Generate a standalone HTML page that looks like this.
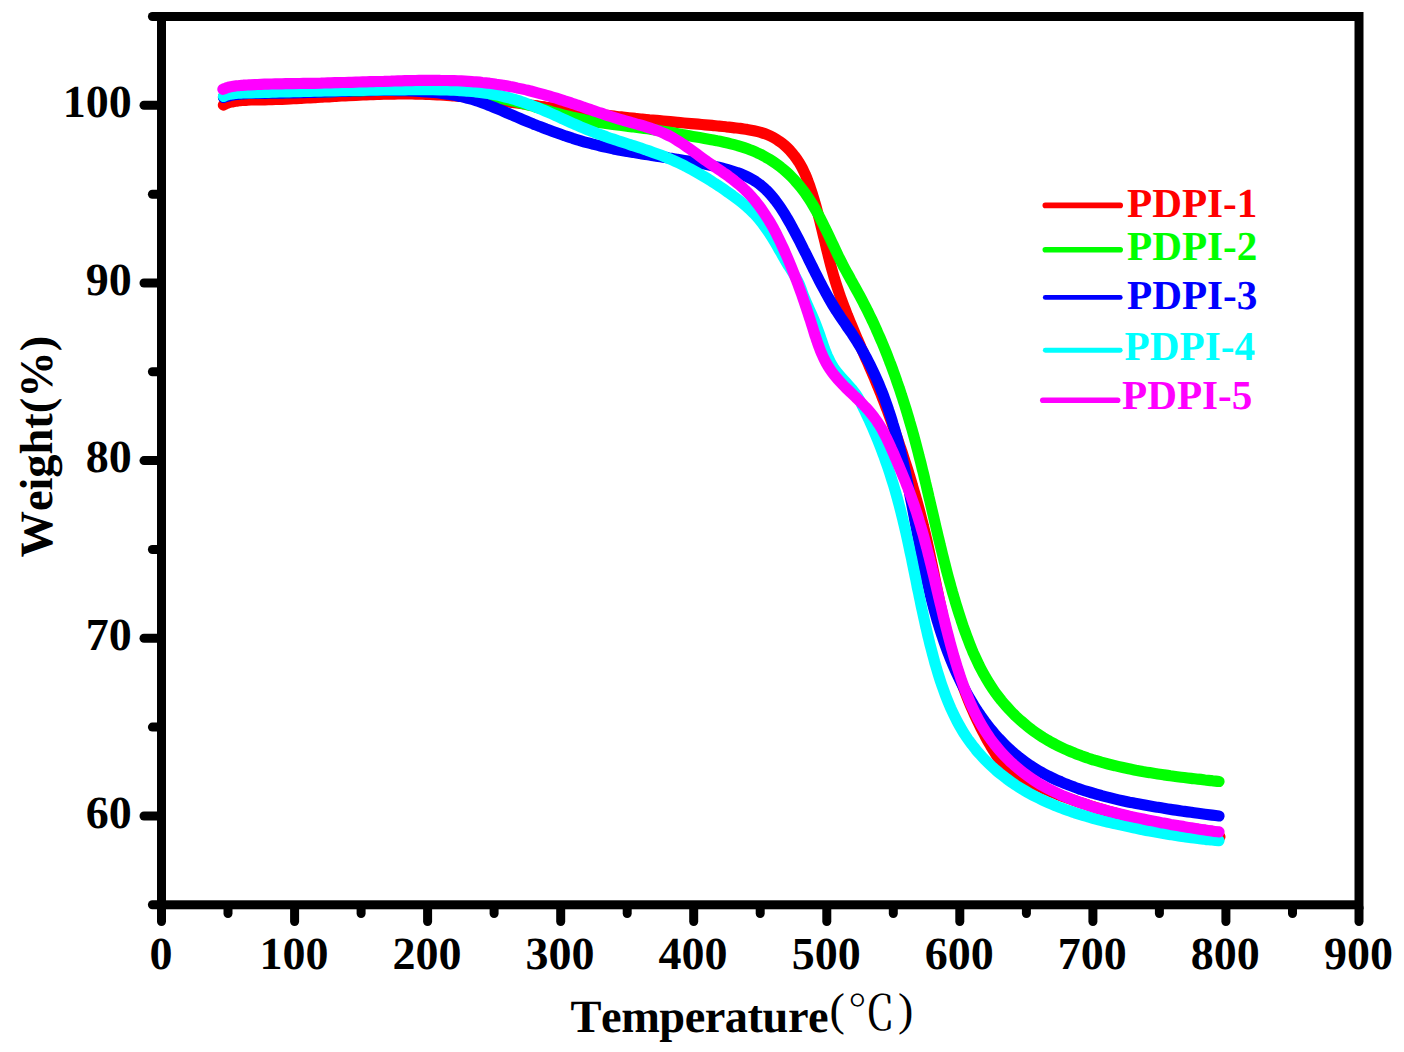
<!DOCTYPE html>
<html><head><meta charset="utf-8">
<style>html,body{margin:0;padding:0;background:#fff}svg{display:block}text{font-kerning:none;font-feature-settings:"kern" 0,"liga" 0;text-rendering:geometricPrecision}</style></head>
<body>
<svg width="1404" height="1052" viewBox="0 0 1404 1052" style="display:block">
<rect width="1404" height="1052" fill="#fff"/>
<g fill="none" stroke-width="11.2" stroke-linecap="round" stroke-linejoin="round">
<path stroke="#ff0000" d="M223.4,105.1C224.2,104.6 225.0,104.1 225.8,103.7C226.6,103.4 227.6,103.0 228.3,102.8C228.9,102.6 229.3,102.5 229.7,102.4C230.1,102.3 230.5,102.2 231.0,102.1C231.7,101.9 232.8,101.7 233.7,101.6C234.6,101.4 236.1,101.2 236.4,101.1C236.5,101.1 236.5,101.1 236.6,101.1C236.9,101.1 238.3,100.9 239.2,100.8C240.1,100.7 241.1,100.6 241.9,100.5C242.5,100.5 243.1,100.4 243.6,100.4C244.0,100.4 244.3,100.3 244.7,100.3C245.5,100.3 246.6,100.2 247.5,100.1C248.5,100.1 249.4,100.1 250.7,100.0C252.6,100.0 255.4,99.9 257.8,99.9C260.2,99.8 262.5,99.8 264.9,99.8C267.3,99.7 269.6,99.7 272.0,99.6C274.3,99.5 276.7,99.4 279.0,99.3C281.3,99.3 283.7,99.2 286.0,99.1C288.3,99.0 290.7,98.9 293.0,98.7C295.3,98.6 297.6,98.5 299.9,98.4C302.2,98.3 304.6,98.1 306.9,98.0C309.2,97.9 311.5,97.7 313.8,97.6C316.1,97.5 318.5,97.3 320.8,97.2C323.1,97.1 325.4,96.9 327.7,96.8C330.1,96.7 332.4,96.5 334.7,96.4C337.1,96.3 339.4,96.1 341.7,96.0C344.0,95.9 346.4,95.7 348.7,95.6C351.1,95.5 353.4,95.4 355.7,95.3C358.1,95.2 360.4,95.1 362.8,95.0C365.1,94.9 367.5,94.8 369.8,94.7C372.1,94.6 374.5,94.5 376.8,94.4C379.2,94.4 381.5,94.3 383.9,94.2C386.2,94.2 388.6,94.1 390.9,94.1C393.3,94.1 395.6,94.0 398.0,94.0C400.3,94.0 402.7,94.0 405.0,94.0C407.3,94.0 409.7,94.0 412.0,94.0C414.4,94.0 416.7,94.1 419.1,94.1C421.4,94.2 423.8,94.2 426.1,94.3C428.4,94.4 430.8,94.5 433.1,94.6C435.4,94.7 437.8,94.8 440.1,95.0C442.5,95.1 444.8,95.2 447.1,95.4C449.5,95.6 451.8,95.7 454.1,95.9C456.4,96.1 458.8,96.3 461.1,96.5C463.4,96.7 465.8,96.9 468.1,97.1C470.4,97.4 472.7,97.6 475.0,97.8C477.4,98.1 479.7,98.3 482.0,98.6C484.3,98.9 486.7,99.1 489.0,99.4C491.3,99.7 493.6,100.0 495.9,100.3C498.3,100.5 500.6,100.8 502.9,101.1C505.2,101.4 507.5,101.7 509.8,102.1C512.2,102.4 514.5,102.7 516.8,103.0C519.1,103.3 521.4,103.6 523.7,104.0C526.1,104.3 528.4,104.6 530.7,105.0C533.0,105.3 535.3,105.6 537.6,105.9C540.0,106.3 542.3,106.6 544.6,106.9C546.9,107.3 549.2,107.6 551.5,107.9C553.9,108.3 556.2,108.6 558.5,108.9C560.8,109.3 563.1,109.6 565.5,109.9C567.8,110.2 570.1,110.6 572.4,110.9C574.7,111.2 577.0,111.5 579.4,111.8C581.7,112.1 584.0,112.5 586.3,112.8C588.7,113.1 591.0,113.4 593.3,113.7C595.6,113.9 597.9,114.2 600.3,114.5C602.6,114.8 604.9,115.1 607.3,115.3C609.6,115.6 611.9,115.9 614.2,116.1C616.6,116.4 618.9,116.7 621.2,116.9C623.5,117.2 625.9,117.4 628.2,117.7C630.5,117.9 632.9,118.1 635.2,118.4C637.5,118.6 639.9,118.9 642.2,119.1C644.5,119.3 646.8,119.5 649.2,119.8C651.5,120.0 653.8,120.2 656.2,120.4C658.5,120.7 660.8,120.9 663.2,121.1C665.5,121.3 667.8,121.5 670.2,121.7C672.5,121.9 674.8,122.1 677.2,122.3C679.5,122.6 681.8,122.8 684.1,123.0C686.5,123.2 688.8,123.4 691.1,123.6C693.5,123.8 695.8,124.0 698.1,124.2C700.4,124.4 702.8,124.6 705.1,124.8C707.4,125.0 709.8,125.2 712.1,125.4C714.4,125.6 716.7,125.9 719.1,126.1C721.4,126.3 723.7,126.5 726.1,126.8C728.4,127.0 730.7,127.3 733.0,127.6C735.4,127.9 737.7,128.1 740.0,128.4C742.4,128.7 744.7,129.1 747.0,129.4C749.3,129.8 751.6,130.2 753.9,130.7C756.2,131.2 758.5,131.7 760.7,132.3C762.9,133.0 765.1,133.7 767.3,134.6C769.4,135.5 771.5,136.5 773.6,137.6C775.6,138.7 777.6,140.0 779.5,141.4C781.4,142.7 783.3,144.2 785.1,145.8C786.8,147.3 788.5,149.0 790.1,150.7C791.7,152.5 793.3,154.3 794.7,156.2C796.1,158.0 797.5,160.0 798.7,161.9C799.9,163.9 801.1,166.0 802.2,168.0C803.2,170.1 804.2,172.2 805.2,174.3C806.1,176.4 807.0,178.6 807.8,180.8C808.7,183.0 809.4,185.2 810.2,187.4C810.9,189.6 811.7,191.8 812.4,194.1C813.1,196.3 813.7,198.5 814.4,200.8C815.1,203.0 815.7,205.3 816.3,207.5C816.9,209.8 817.5,212.1 818.1,214.3C818.7,216.6 819.3,218.9 819.9,221.1C820.4,223.4 821.0,225.7 821.6,228.0C822.1,230.2 822.7,232.5 823.2,234.8C823.8,237.1 824.3,239.3 824.9,241.6C825.4,243.9 825.9,246.2 826.5,248.5C827.1,250.7 827.6,253.0 828.2,255.3C828.8,257.6 829.3,259.8 829.9,262.1C830.5,264.4 831.1,266.6 831.7,268.9C832.3,271.1 833.0,273.4 833.6,275.6C834.3,277.9 834.9,280.1 835.6,282.3C836.3,284.6 837.0,286.8 837.8,289.0C838.5,291.2 839.3,293.4 840.0,295.6C840.8,297.8 841.6,300.0 842.4,302.2C843.2,304.4 844.0,306.6 844.9,308.7C845.7,310.9 846.6,313.1 847.4,315.3C848.3,317.4 849.2,319.6 850.1,321.8C851.0,323.9 851.9,326.1 852.8,328.2C853.7,330.4 854.6,332.5 855.5,334.7C856.4,336.8 857.4,339.0 858.3,341.1C859.2,343.3 860.2,345.4 861.1,347.6C862.1,349.7 863.0,351.9 863.9,354.0C864.9,356.1 865.8,358.3 866.7,360.4C867.7,362.6 868.6,364.7 869.5,366.9C870.5,369.0 871.4,371.2 872.3,373.3C873.2,375.5 874.2,377.6 875.1,379.8C876.0,381.9 876.9,384.1 877.7,386.2C878.6,388.4 879.5,390.6 880.4,392.7C881.2,394.9 882.1,397.1 883.0,399.3C883.8,401.4 884.7,403.6 885.5,405.8C886.3,408.0 887.2,410.1 888.0,412.3C888.8,414.5 889.6,416.7 890.4,418.9C891.2,421.1 892.0,423.3 892.8,425.5C893.6,427.7 894.4,429.9 895.2,432.1C895.9,434.3 896.7,436.5 897.5,438.7C898.2,440.9 899.0,443.1 899.7,445.3C900.5,447.5 901.2,449.7 902.0,451.9C902.7,454.2 903.4,456.4 904.1,458.6C904.8,460.8 905.6,463.0 906.3,465.3C907.0,467.5 907.7,469.7 908.4,472.0C909.1,474.2 909.7,476.4 910.4,478.7C911.1,480.9 911.8,483.2 912.4,485.4C913.1,487.6 913.7,489.9 914.4,492.1C915.0,494.4 915.7,496.6 916.3,498.9C916.9,501.1 917.5,503.4 918.2,505.6C918.8,507.9 919.4,510.2 920.0,512.4C920.6,514.7 921.1,516.9 921.7,519.2C922.3,521.5 922.9,523.7 923.4,526.0C924.0,528.3 924.5,530.5 925.1,532.8C925.6,535.1 926.2,537.4 926.7,539.6C927.2,541.9 927.7,544.2 928.2,546.5C928.7,548.7 929.2,551.0 929.7,553.3C930.2,555.6 930.7,557.8 931.1,560.1C931.6,562.4 932.1,564.7 932.6,567.0C933.0,569.2 933.5,571.5 934.0,573.8C934.4,576.1 934.9,578.4 935.4,580.7C935.8,582.9 936.3,585.2 936.7,587.5C937.2,589.8 937.7,592.1 938.2,594.4C938.6,596.7 939.1,598.9 939.6,601.2C940.1,603.5 940.6,605.8 941.1,608.1C941.6,610.4 942.1,612.6 942.6,614.9C943.1,617.2 943.6,619.5 944.2,621.8C944.7,624.0 945.2,626.3 945.8,628.6C946.4,630.9 946.9,633.1 947.5,635.4C948.1,637.7 948.7,640.0 949.3,642.2C949.9,644.5 950.5,646.7 951.1,649.0C951.8,651.3 952.4,653.5 953.1,655.8C953.7,658.0 954.4,660.3 955.1,662.5C955.7,664.8 956.4,667.0 957.2,669.2C957.9,671.5 958.6,673.7 959.4,675.9C960.1,678.1 960.9,680.3 961.6,682.5C962.4,684.7 963.2,687.0 964.0,689.1C964.8,691.3 965.7,693.5 966.5,695.7C967.4,697.9 968.2,700.0 969.1,702.2C970.0,704.4 970.9,706.5 971.9,708.7C972.8,710.8 973.7,713.0 974.7,715.1C975.7,717.2 976.6,719.3 977.7,721.4C978.7,723.5 979.7,725.6 980.7,727.7C981.8,729.8 982.9,731.9 984.0,733.9C985.1,736.0 986.2,738.0 987.3,740.1C988.5,742.1 989.6,744.1 990.8,746.2C992.0,748.2 993.2,750.2 994.5,752.1C995.7,754.1 997.0,756.1 998.3,758.0C999.7,759.9 1001.1,761.7 1002.6,763.5C1004.1,765.2 1005.6,766.9 1007.4,768.5C1009.1,770.0 1010.9,771.4 1012.8,772.7C1014.7,774.0 1016.8,775.1 1018.8,776.3C1020.9,777.4 1023.0,778.5 1025.1,779.6C1027.1,780.7 1029.2,781.8 1031.3,782.8C1033.4,783.8 1035.6,784.9 1037.7,785.8C1039.8,786.8 1041.9,787.8 1044.1,788.7C1046.2,789.7 1048.4,790.6 1050.5,791.5C1052.7,792.4 1054.9,793.3 1057.0,794.2C1059.2,795.0 1061.4,795.9 1063.6,796.7C1065.8,797.5 1068.0,798.3 1070.2,799.1C1072.4,799.9 1074.6,800.7 1076.8,801.4C1079.0,802.2 1081.3,802.9 1083.5,803.6C1085.7,804.4 1087.9,805.1 1090.2,805.8C1092.4,806.5 1094.7,807.2 1096.9,807.8C1099.1,808.5 1101.4,809.2 1103.6,809.8C1105.9,810.5 1108.2,811.1 1110.4,811.7C1112.7,812.3 1114.9,813.0 1117.2,813.6C1119.4,814.2 1121.7,814.8 1124.0,815.4C1126.2,816.0 1128.5,816.5 1130.8,817.1C1133.0,817.7 1135.3,818.3 1137.6,818.8C1139.9,819.4 1142.1,819.9 1144.4,820.5C1146.7,821.0 1149.0,821.6 1151.2,822.1C1153.5,822.6 1155.8,823.2 1158.1,823.7C1160.4,824.2 1162.6,824.7 1164.9,825.2C1167.2,825.7 1169.5,826.2 1171.8,826.7C1174.1,827.2 1176.3,827.7 1178.6,828.2C1180.9,828.7 1183.2,829.2 1185.5,829.7C1187.8,830.2 1190.1,830.6 1192.4,831.1C1194.7,831.6 1197.0,832.1 1199.2,832.5C1201.5,833.0 1203.8,833.5 1206.1,833.9C1208.4,834.4 1210.7,834.9 1213.0,835.3C1215.3,835.8 1217.6,836.2 1219.9,836.7"/>
<path stroke="#00ff00" d="M223.5,96.8C224.4,96.6 225.2,96.3 226.1,96.1C227.0,95.9 228.1,95.6 228.8,95.4C229.4,95.3 229.8,95.2 230.3,95.1C230.7,95.1 231.0,95.0 231.6,94.9C232.3,94.8 233.4,94.6 234.3,94.4C235.2,94.3 236.6,94.1 237.0,94.1C237.1,94.0 237.1,94.0 237.2,94.0C237.5,94.0 238.9,93.8 239.8,93.7C240.7,93.6 241.7,93.6 242.5,93.5C243.1,93.4 243.7,93.4 244.2,93.4C244.6,93.3 244.8,93.3 245.3,93.3C246.0,93.2 247.1,93.2 248.1,93.1C249.1,93.1 249.9,93.1 251.2,93.0C253.1,93.0 255.9,92.9 258.2,92.9C260.6,92.8 262.9,92.8 265.3,92.8C267.6,92.8 270.0,92.7 272.3,92.7C274.7,92.7 277.0,92.7 279.3,92.7C281.7,92.6 284.0,92.6 286.4,92.6C288.7,92.5 291.1,92.5 293.4,92.5C295.8,92.5 298.1,92.4 300.4,92.4C302.8,92.4 305.1,92.3 307.5,92.3C309.8,92.2 312.1,92.2 314.5,92.1C316.8,92.1 319.2,92.0 321.5,92.0C323.9,91.9 326.2,91.8 328.5,91.8C330.9,91.7 333.2,91.6 335.6,91.5C337.9,91.5 340.3,91.4 342.6,91.3C344.9,91.2 347.3,91.2 349.6,91.1C352.0,91.0 354.3,90.9 356.7,90.8C359.0,90.8 361.4,90.7 363.7,90.6C366.0,90.5 368.4,90.5 370.7,90.4C373.1,90.3 375.4,90.3 377.8,90.2C380.1,90.2 382.4,90.1 384.8,90.1C387.1,90.0 389.5,90.0 391.8,89.9C394.2,89.9 396.5,89.9 398.9,89.9C401.2,89.9 403.5,89.9 405.9,89.9C408.2,89.9 410.6,89.9 412.9,89.9C415.2,89.9 417.6,90.0 419.9,90.0C422.3,90.1 424.6,90.1 426.9,90.2C429.3,90.3 431.6,90.4 434.0,90.5C436.3,90.6 438.6,90.7 441.0,90.9C443.3,91.0 445.7,91.2 448.0,91.3C450.3,91.5 452.7,91.7 455.0,91.9C457.3,92.1 459.7,92.3 462.0,92.6C464.3,92.8 466.7,93.1 469.0,93.4C471.3,93.6 473.6,93.9 475.9,94.3C478.3,94.6 480.6,94.9 482.9,95.3C485.2,95.6 487.5,96.0 489.8,96.4C492.1,96.8 494.5,97.2 496.8,97.6C499.1,98.1 501.4,98.5 503.6,99.0C505.9,99.5 508.2,100.0 510.5,100.5C512.8,101.0 515.1,101.5 517.3,102.1C519.6,102.7 521.9,103.2 524.2,103.8C526.4,104.4 528.7,105.1 530.9,105.7C533.2,106.3 535.4,107.0 537.7,107.7C539.9,108.3 542.2,109.0 544.4,109.6C546.7,110.3 548.9,110.9 551.2,111.6C553.4,112.2 555.7,112.9 557.9,113.5C560.2,114.1 562.5,114.7 564.7,115.3C567.0,115.9 569.2,116.4 571.5,117.0C573.8,117.5 576.1,118.0 578.3,118.5C580.6,119.0 582.9,119.5 585.2,119.9C587.5,120.4 589.8,120.8 592.1,121.2C594.4,121.6 596.7,122.0 599.0,122.4C601.3,122.8 603.6,123.1 605.9,123.5C608.2,123.8 610.6,124.1 612.9,124.4C615.2,124.7 617.5,125.0 619.8,125.3C622.2,125.6 624.5,125.9 626.8,126.2C629.1,126.5 631.5,126.7 633.8,127.0C636.1,127.3 638.4,127.6 640.8,127.9C643.1,128.2 645.4,128.5 647.7,128.8C650.0,129.2 652.3,129.5 654.7,129.9C657.0,130.2 659.3,130.6 661.6,131.0C663.9,131.3 666.2,131.7 668.5,132.1C670.8,132.5 673.1,132.9 675.4,133.3C677.7,133.7 680.0,134.1 682.4,134.6C684.7,135.0 687.0,135.4 689.3,135.8C691.6,136.2 693.9,136.6 696.2,137.0C698.5,137.4 700.9,137.8 703.2,138.2C705.5,138.6 707.8,139.0 710.1,139.4C712.5,139.9 714.8,140.3 717.1,140.8C719.4,141.2 721.7,141.7 724.0,142.2C726.3,142.7 728.5,143.2 730.8,143.8C733.1,144.4 735.3,145.0 737.6,145.6C739.8,146.3 742.0,147.0 744.2,147.7C746.4,148.4 748.6,149.2 750.8,150.1C752.9,150.9 755.1,151.8 757.2,152.8C759.3,153.7 761.4,154.7 763.4,155.8C765.5,156.9 767.5,158.1 769.5,159.3C771.4,160.5 773.4,161.8 775.3,163.1C777.2,164.4 779.1,165.8 780.9,167.3C782.7,168.7 784.5,170.3 786.2,171.8C788.0,173.4 789.7,175.0 791.3,176.6C793.0,178.3 794.6,180.0 796.1,181.8C797.7,183.5 799.2,185.3 800.6,187.1C802.1,189.0 803.5,190.8 804.9,192.7C806.2,194.6 807.6,196.6 808.8,198.5C810.1,200.5 811.4,202.5 812.6,204.5C813.8,206.5 815.0,208.5 816.1,210.6C817.3,212.6 818.4,214.7 819.5,216.8C820.6,218.9 821.6,221.0 822.7,223.1C823.7,225.2 824.7,227.3 825.8,229.4C826.8,231.5 827.8,233.6 828.8,235.7C829.8,237.9 830.8,240.0 831.8,242.1C832.8,244.2 833.8,246.3 834.8,248.4C835.8,250.5 836.8,252.7 837.8,254.8C838.8,256.9 839.8,259.0 840.9,261.0C842.0,263.1 843.0,265.2 844.1,267.3C845.2,269.3 846.3,271.4 847.4,273.4C848.6,275.5 849.7,277.5 850.8,279.6C852.0,281.6 853.1,283.7 854.2,285.7C855.4,287.8 856.5,289.8 857.6,291.9C858.7,293.9 859.9,296.0 861.0,298.1C862.1,300.1 863.1,302.2 864.2,304.3C865.3,306.4 866.3,308.4 867.4,310.5C868.4,312.6 869.5,314.7 870.5,316.8C871.5,318.9 872.5,321.1 873.5,323.2C874.5,325.3 875.4,327.4 876.4,329.6C877.3,331.7 878.3,333.8 879.2,336.0C880.2,338.1 881.1,340.3 882.0,342.4C882.9,344.6 883.8,346.7 884.7,348.9C885.6,351.1 886.4,353.2 887.3,355.4C888.1,357.6 889.0,359.8 889.8,362.0C890.7,364.1 891.5,366.3 892.3,368.5C893.1,370.7 893.9,372.9 894.7,375.1C895.5,377.3 896.3,379.6 897.0,381.8C897.8,384.0 898.6,386.2 899.3,388.4C900.1,390.6 900.8,392.9 901.5,395.1C902.3,397.3 903.0,399.5 903.7,401.8C904.4,404.0 905.1,406.3 905.8,408.5C906.5,410.7 907.2,413.0 907.8,415.2C908.5,417.5 909.2,419.7 909.8,422.0C910.5,424.2 911.1,426.5 911.8,428.7C912.4,431.0 913.0,433.2 913.7,435.5C914.3,437.8 914.9,440.0 915.5,442.3C916.1,444.5 916.7,446.8 917.3,449.1C917.9,451.3 918.5,453.6 919.0,455.9C919.6,458.1 920.2,460.4 920.8,462.7C921.3,465.0 921.9,467.2 922.4,469.5C923.0,471.8 923.6,474.0 924.1,476.3C924.6,478.6 925.2,480.9 925.7,483.1C926.3,485.4 926.8,487.7 927.3,490.0C927.9,492.3 928.4,494.5 928.9,496.8C929.5,499.1 930.0,501.4 930.5,503.6C931.0,505.9 931.6,508.2 932.1,510.5C932.6,512.7 933.2,515.0 933.7,517.3C934.2,519.6 934.7,521.9 935.3,524.1C935.8,526.4 936.3,528.7 936.9,531.0C937.4,533.2 937.9,535.5 938.5,537.8C939.0,540.1 939.6,542.3 940.1,544.6C940.7,546.9 941.2,549.2 941.8,551.4C942.3,553.7 942.9,556.0 943.5,558.2C944.0,560.5 944.6,562.8 945.2,565.0C945.8,567.3 946.3,569.6 946.9,571.8C947.5,574.1 948.1,576.4 948.7,578.6C949.4,580.9 950.0,583.2 950.6,585.4C951.2,587.7 951.9,589.9 952.5,592.2C953.2,594.4 953.8,596.7 954.5,598.9C955.1,601.2 955.8,603.4 956.5,605.7C957.2,607.9 957.9,610.2 958.6,612.4C959.3,614.7 960.1,616.9 960.8,619.1C961.5,621.4 962.3,623.6 963.0,625.8C963.8,628.1 964.6,630.3 965.4,632.5C966.2,634.7 967.0,637.0 967.9,639.2C968.7,641.4 969.5,643.6 970.4,645.7C971.3,647.9 972.2,650.1 973.1,652.3C974.1,654.4 975.0,656.6 976.0,658.7C977.0,660.8 978.0,663.0 979.0,665.1C980.1,667.2 981.1,669.2 982.2,671.3C983.3,673.4 984.5,675.4 985.6,677.4C986.8,679.4 988.0,681.4 989.2,683.4C990.5,685.4 991.8,687.3 993.1,689.3C994.4,691.2 995.7,693.1 997.1,695.0C998.5,696.8 1000.0,698.7 1001.4,700.5C1002.9,702.3 1004.4,704.1 1005.9,705.8C1007.5,707.6 1009.1,709.3 1010.7,711.0C1012.3,712.7 1013.9,714.3 1015.6,716.0C1017.3,717.6 1019.0,719.2 1020.8,720.7C1022.5,722.3 1024.3,723.8 1026.1,725.2C1027.9,726.7 1029.7,728.2 1031.6,729.6C1033.4,731.0 1035.3,732.3 1037.3,733.6C1039.2,734.9 1041.1,736.2 1043.1,737.5C1045.1,738.7 1047.1,739.9 1049.1,741.0C1051.1,742.2 1053.2,743.3 1055.2,744.4C1057.3,745.5 1059.4,746.5 1061.5,747.5C1063.6,748.5 1065.7,749.5 1067.9,750.4C1070.0,751.4 1072.2,752.3 1074.4,753.1C1076.5,754.0 1078.7,754.8 1080.9,755.6C1083.2,756.5 1085.4,757.2 1087.6,758.0C1089.9,758.7 1092.1,759.5 1094.4,760.2C1096.6,760.8 1098.9,761.5 1101.2,762.2C1103.4,762.8 1105.7,763.4 1108.0,764.0C1110.3,764.6 1112.6,765.2 1114.9,765.7C1117.2,766.3 1119.5,766.8 1121.8,767.3C1124.1,767.8 1126.4,768.3 1128.7,768.8C1131.0,769.3 1133.4,769.7 1135.7,770.2C1138.0,770.6 1140.3,771.0 1142.6,771.5C1144.9,771.9 1147.2,772.3 1149.5,772.6C1151.8,773.0 1154.1,773.4 1156.4,773.7C1158.7,774.1 1161.0,774.4 1163.3,774.8C1165.6,775.1 1168.0,775.4 1170.3,775.8C1172.6,776.1 1174.9,776.4 1177.2,776.7C1179.5,777.0 1181.8,777.3 1184.1,777.5C1186.4,777.8 1188.8,778.1 1191.1,778.4C1193.4,778.7 1195.7,778.9 1198.0,779.2C1200.4,779.4 1202.7,779.7 1205.0,780.0C1207.3,780.2 1209.7,780.5 1212.0,780.7C1214.3,781.0 1216.7,781.2 1219.0,781.5"/>
<path stroke="#0000ff" d="M223.5,97.4C224.4,97.1 225.3,96.8 226.1,96.6C227.0,96.3 228.1,96.1 228.8,95.9C229.4,95.8 229.8,95.7 230.3,95.6C230.7,95.5 231.0,95.4 231.5,95.3C232.3,95.2 233.4,95.0 234.3,94.8C235.2,94.7 236.7,94.5 237.0,94.4C237.1,94.4 237.1,94.4 237.1,94.4C237.5,94.4 238.9,94.2 239.7,94.1C240.6,94.0 241.7,93.9 242.5,93.8C243.1,93.8 243.6,93.8 244.1,93.7C244.5,93.7 244.8,93.7 245.3,93.7C246.0,93.6 247.1,93.6 248.0,93.5C249.0,93.5 249.9,93.5 251.1,93.4C253.0,93.4 255.8,93.3 258.1,93.3C260.5,93.3 262.8,93.3 265.2,93.3C267.5,93.3 269.9,93.2 272.2,93.2C274.6,93.2 276.9,93.2 279.2,93.1C281.6,93.1 283.9,93.0 286.2,93.0C288.6,93.0 290.9,92.9 293.3,92.9C295.6,92.8 297.9,92.7 300.3,92.7C302.6,92.6 304.9,92.6 307.3,92.5C309.6,92.4 311.9,92.4 314.3,92.3C316.6,92.2 318.9,92.2 321.3,92.1C323.6,92.0 325.9,91.9 328.3,91.8C330.6,91.8 332.9,91.7 335.3,91.6C337.6,91.5 340.0,91.4 342.3,91.3C344.6,91.3 347.0,91.2 349.3,91.1C351.6,91.0 354.0,91.0 356.3,90.9C358.7,90.8 361.0,90.8 363.3,90.7C365.7,90.7 368.0,90.6 370.4,90.6C372.7,90.5 375.0,90.5 377.4,90.5C379.7,90.5 382.1,90.4 384.4,90.4C386.7,90.4 389.1,90.4 391.4,90.5C393.7,90.5 396.1,90.5 398.4,90.6C400.8,90.6 403.1,90.7 405.4,90.7C407.8,90.8 410.1,90.9 412.4,91.0C414.8,91.1 417.1,91.2 419.5,91.4C421.8,91.5 424.1,91.7 426.5,91.9C428.8,92.0 431.1,92.2 433.5,92.5C435.8,92.7 438.1,92.9 440.5,93.2C442.8,93.5 445.1,93.8 447.4,94.1C449.7,94.5 452.0,94.8 454.3,95.2C456.6,95.7 458.9,96.1 461.2,96.6C463.5,97.1 465.7,97.7 468.0,98.3C470.2,98.9 472.5,99.5 474.7,100.2C476.9,100.9 479.1,101.7 481.3,102.4C483.5,103.2 485.7,104.0 487.8,104.9C490.0,105.7 492.2,106.6 494.3,107.5C496.5,108.4 498.6,109.3 500.8,110.2C502.9,111.1 505.1,112.1 507.2,113.0C509.4,113.9 511.5,114.9 513.7,115.8C515.9,116.7 518.0,117.6 520.2,118.5C522.3,119.4 524.5,120.3 526.7,121.2C528.8,122.1 531.0,123.0 533.2,123.9C535.3,124.7 537.5,125.6 539.7,126.4C541.9,127.3 544.0,128.1 546.2,129.0C548.4,129.8 550.6,130.6 552.8,131.4C555.0,132.2 557.2,133.0 559.4,133.8C561.6,134.6 563.8,135.3 566.0,136.1C568.2,136.8 570.4,137.5 572.7,138.3C574.9,139.0 577.1,139.7 579.3,140.3C581.6,141.0 583.8,141.7 586.0,142.3C588.3,142.9 590.5,143.5 592.8,144.1C595.1,144.7 597.3,145.3 599.6,145.8C601.8,146.4 604.1,146.9 606.4,147.4C608.7,147.9 611.0,148.4 613.3,148.9C615.5,149.3 617.8,149.8 620.1,150.2C622.4,150.6 624.7,151.0 627.1,151.4C629.4,151.9 631.7,152.2 634.0,152.6C636.3,153.0 638.6,153.4 640.9,153.7C643.3,154.1 645.6,154.5 647.9,154.8C650.2,155.2 652.5,155.5 654.9,155.9C657.2,156.2 659.5,156.6 661.8,156.9C664.2,157.3 666.5,157.6 668.8,158.0C671.1,158.3 673.4,158.7 675.8,159.1C678.1,159.4 680.4,159.8 682.7,160.2C685.0,160.6 687.4,160.9 689.7,161.3C692.0,161.7 694.3,162.2 696.6,162.6C698.9,163.0 701.2,163.5 703.5,163.9C705.8,164.4 708.1,164.9 710.4,165.4C712.6,165.9 714.9,166.4 717.2,166.9C719.5,167.5 721.7,168.0 724.0,168.6C726.3,169.2 728.5,169.8 730.7,170.5C733.0,171.2 735.2,171.9 737.3,172.7C739.5,173.4 741.6,174.3 743.7,175.2C745.8,176.1 747.9,177.0 749.9,178.1C751.9,179.2 753.9,180.3 755.7,181.5C757.6,182.8 759.5,184.1 761.2,185.6C763.0,187.0 764.7,188.5 766.3,190.1C768.0,191.7 769.5,193.4 771.1,195.2C772.6,196.9 774.1,198.7 775.5,200.6C777.0,202.5 778.3,204.4 779.7,206.4C781.0,208.3 782.3,210.3 783.6,212.4C784.9,214.4 786.1,216.5 787.3,218.5C788.5,220.6 789.7,222.7 790.9,224.8C792.0,226.9 793.2,229.0 794.3,231.1C795.4,233.2 796.5,235.3 797.6,237.4C798.7,239.4 799.7,241.5 800.8,243.6C801.9,245.7 802.9,247.8 803.9,249.9C805.0,251.9 806.0,254.0 807.1,256.1C808.1,258.2 809.1,260.2 810.1,262.3C811.1,264.4 812.2,266.4 813.2,268.5C814.2,270.5 815.2,272.6 816.3,274.7C817.3,276.7 818.3,278.7 819.4,280.8C820.5,282.8 821.5,284.9 822.6,286.9C823.7,288.9 824.8,290.9 825.9,293.0C827.0,295.0 828.1,297.0 829.3,299.0C830.4,301.0 831.6,303.0 832.8,305.0C834.0,307.0 835.3,309.0 836.5,311.0C837.8,313.0 839.1,314.9 840.4,316.9C841.8,318.9 843.1,320.9 844.5,322.8C845.8,324.8 847.2,326.8 848.5,328.8C849.9,330.7 851.2,332.7 852.6,334.7C853.9,336.7 855.2,338.7 856.5,340.7C857.7,342.7 859.0,344.7 860.2,346.8C861.4,348.8 862.5,350.8 863.7,352.9C864.8,355.0 866.0,357.0 867.1,359.1C868.2,361.2 869.2,363.2 870.3,365.3C871.3,367.4 872.3,369.5 873.3,371.6C874.3,373.7 875.3,375.8 876.2,377.9C877.2,380.1 878.1,382.2 879.0,384.3C879.9,386.5 880.8,388.6 881.6,390.8C882.5,392.9 883.3,395.1 884.1,397.2C884.9,399.4 885.7,401.6 886.5,403.8C887.3,405.9 888.0,408.1 888.7,410.3C889.5,412.5 890.2,414.7 890.9,416.9C891.6,419.1 892.3,421.3 892.9,423.6C893.6,425.8 894.3,428.0 894.9,430.2C895.5,432.5 896.2,434.7 896.8,436.9C897.4,439.2 898.0,441.4 898.5,443.7C899.1,445.9 899.7,448.2 900.3,450.4C900.8,452.7 901.4,454.9 901.9,457.2C902.4,459.5 903.0,461.7 903.5,464.0C904.0,466.3 904.5,468.5 905.0,470.8C905.5,473.1 906.0,475.4 906.5,477.7C906.9,479.9 907.4,482.2 907.9,484.5C908.4,486.8 908.8,489.1 909.3,491.4C909.7,493.7 910.2,496.0 910.6,498.3C911.1,500.6 911.5,502.9 912.0,505.2C912.4,507.5 912.9,509.8 913.3,512.1C913.7,514.4 914.2,516.7 914.6,519.0C915.1,521.3 915.5,523.6 915.9,525.9C916.4,528.2 916.8,530.5 917.2,532.8C917.7,535.1 918.1,537.4 918.6,539.7C919.0,542.0 919.4,544.3 919.9,546.6C920.4,548.9 920.8,551.2 921.3,553.5C921.7,555.8 922.2,558.1 922.7,560.4C923.1,562.7 923.6,565.0 924.1,567.3C924.6,569.6 925.1,571.9 925.6,574.2C926.1,576.5 926.6,578.8 927.1,581.1C927.6,583.3 928.1,585.6 928.7,587.9C929.2,590.2 929.7,592.5 930.3,594.7C930.9,597.0 931.4,599.3 932.0,601.5C932.6,603.8 933.2,606.1 933.8,608.3C934.4,610.6 935.0,612.8 935.7,615.1C936.3,617.3 936.9,619.6 937.6,621.8C938.3,624.1 939.0,626.3 939.7,628.5C940.4,630.8 941.1,633.0 941.8,635.2C942.6,637.4 943.3,639.6 944.1,641.9C944.9,644.1 945.7,646.3 946.5,648.5C947.3,650.7 948.1,652.9 949.0,655.0C949.8,657.2 950.7,659.4 951.6,661.6C952.5,663.7 953.4,665.9 954.4,668.1C955.3,670.2 956.3,672.4 957.3,674.5C958.3,676.6 959.3,678.7 960.3,680.9C961.3,683.0 962.4,685.1 963.5,687.2C964.6,689.2 965.7,691.3 966.8,693.4C967.9,695.4 969.1,697.5 970.3,699.5C971.5,701.5 972.7,703.5 973.9,705.5C975.2,707.5 976.4,709.4 977.7,711.4C979.0,713.3 980.3,715.2 981.6,717.1C983.0,719.0 984.4,720.9 985.7,722.8C987.1,724.6 988.6,726.4 990.0,728.3C991.5,730.1 992.9,731.8 994.4,733.6C995.9,735.3 997.5,737.0 999.0,738.7C1000.6,740.4 1002.2,742.1 1003.8,743.7C1005.4,745.3 1007.1,746.9 1008.8,748.5C1010.4,750.1 1012.1,751.6 1013.9,753.1C1015.6,754.6 1017.4,756.0 1019.2,757.5C1021.0,758.9 1022.8,760.3 1024.7,761.6C1026.5,763.0 1028.4,764.3 1030.3,765.6C1032.3,766.8 1034.2,768.1 1036.2,769.3C1038.2,770.5 1040.2,771.6 1042.2,772.7C1044.2,773.9 1046.3,775.0 1048.4,776.0C1050.5,777.1 1052.6,778.1 1054.7,779.1C1056.8,780.1 1059.0,781.0 1061.1,781.9C1063.3,782.9 1065.5,783.8 1067.7,784.6C1069.9,785.5 1072.1,786.3 1074.3,787.1C1076.6,788.0 1078.8,788.7 1081.1,789.5C1083.3,790.3 1085.6,791.0 1087.9,791.7C1090.1,792.4 1092.4,793.1 1094.7,793.7C1097.0,794.4 1099.3,795.0 1101.6,795.7C1103.9,796.3 1106.3,796.9 1108.6,797.4C1110.9,798.0 1113.2,798.6 1115.5,799.1C1117.9,799.7 1120.2,800.2 1122.5,800.7C1124.8,801.2 1127.1,801.7 1129.4,802.2C1131.7,802.6 1134.1,803.1 1136.4,803.5C1138.7,804.0 1141.0,804.4 1143.3,804.8C1145.5,805.3 1147.8,805.7 1150.1,806.1C1152.4,806.5 1154.7,806.9 1157.0,807.2C1159.3,807.6 1161.5,808.0 1163.8,808.3C1166.1,808.7 1168.4,809.1 1170.7,809.4C1172.9,809.7 1175.2,810.1 1177.5,810.4C1179.8,810.7 1182.1,811.1 1184.3,811.4C1186.6,811.7 1188.9,812.0 1191.2,812.3C1193.5,812.7 1195.8,813.0 1198.1,813.3C1200.4,813.6 1202.7,813.9 1205.0,814.2C1207.4,814.5 1209.7,814.8 1212.0,815.1C1214.3,815.4 1216.7,815.7 1219.0,816.0"/>
<path stroke="#00ffff" d="M223.5,96.4C224.3,96.1 225.2,95.7 226.0,95.3C226.9,95.0 227.9,94.7 228.7,94.5C229.2,94.4 229.6,94.3 230.1,94.2C230.5,94.1 230.8,94.1 231.3,94.0C232.1,93.8 233.2,93.7 234.1,93.6C235.0,93.5 236.5,93.3 236.8,93.3C236.9,93.3 236.9,93.3 237.0,93.3C237.3,93.3 238.7,93.2 239.6,93.2C240.6,93.1 241.6,93.1 242.4,93.0C243.0,93.0 243.5,93.0 244.0,93.0C244.4,93.0 244.7,93.0 245.2,93.0C246.0,92.9 247.1,92.9 248.0,92.9C249.0,92.8 249.8,92.8 251.1,92.8C252.9,92.7 255.8,92.6 258.1,92.6C260.4,92.5 262.8,92.4 265.1,92.4C267.5,92.3 269.8,92.3 272.1,92.2C274.5,92.1 276.8,92.1 279.1,92.0C281.5,92.0 283.8,91.9 286.1,91.9C288.5,91.8 290.8,91.8 293.1,91.7C295.4,91.7 297.8,91.6 300.1,91.6C302.4,91.5 304.8,91.5 307.1,91.4C309.4,91.3 311.7,91.3 314.1,91.2C316.4,91.2 318.7,91.1 321.0,91.1C323.4,91.0 325.7,91.0 328.0,90.9C330.3,90.9 332.7,90.8 335.0,90.8C337.3,90.7 339.6,90.7 342.0,90.7C344.3,90.6 346.6,90.6 349.0,90.5C351.3,90.5 353.6,90.4 355.9,90.4C358.3,90.3 360.6,90.3 362.9,90.3C365.3,90.2 367.6,90.2 369.9,90.2C372.2,90.1 374.6,90.1 376.9,90.1C379.2,90.0 381.6,90.0 383.9,90.0C386.2,89.9 388.6,89.9 390.9,89.9C393.3,89.9 395.6,89.8 397.9,89.8C400.3,89.8 402.6,89.8 404.9,89.8C407.3,89.8 409.6,89.7 412.0,89.7C414.3,89.7 416.7,89.7 419.0,89.7C421.4,89.7 423.7,89.7 426.1,89.7C428.4,89.7 430.8,89.7 433.1,89.7C435.5,89.8 437.8,89.8 440.1,89.8C442.5,89.9 444.8,89.9 447.2,90.0C449.5,90.1 451.9,90.1 454.2,90.2C456.5,90.3 458.9,90.5 461.2,90.6C463.5,90.8 465.9,90.9 468.2,91.1C470.5,91.3 472.8,91.5 475.1,91.8C477.5,92.0 479.8,92.3 482.1,92.6C484.4,92.9 486.6,93.2 488.9,93.6C491.2,93.9 493.5,94.3 495.7,94.8C498.0,95.2 500.3,95.7 502.5,96.2C504.8,96.7 507.0,97.3 509.2,97.9C511.4,98.5 513.7,99.2 515.9,99.8C518.1,100.5 520.3,101.3 522.5,102.0C524.6,102.8 526.8,103.6 529.0,104.4C531.2,105.2 533.3,106.1 535.5,106.9C537.6,107.8 539.8,108.7 542.0,109.6C544.1,110.5 546.3,111.5 548.4,112.4C550.5,113.3 552.7,114.3 554.8,115.3C557.0,116.2 559.1,117.2 561.2,118.2C563.4,119.1 565.5,120.1 567.7,121.1C569.8,122.0 572.0,123.0 574.1,124.0C576.3,124.9 578.4,125.8 580.6,126.8C582.7,127.7 584.9,128.6 587.0,129.5C589.2,130.4 591.4,131.3 593.6,132.1C595.7,133.0 597.9,133.8 600.1,134.6C602.3,135.4 604.5,136.2 606.7,136.9C608.9,137.7 611.2,138.5 613.4,139.2C615.6,139.9 617.8,140.7 620.0,141.4C622.2,142.1 624.4,142.8 626.7,143.5C628.9,144.2 631.1,145.0 633.3,145.7C635.5,146.4 637.7,147.1 640.0,147.8C642.2,148.6 644.4,149.3 646.6,150.1C648.8,150.8 651.0,151.6 653.1,152.4C655.3,153.2 657.5,154.0 659.7,154.8C661.9,155.6 664.0,156.5 666.2,157.4C668.3,158.2 670.5,159.2 672.6,160.1C674.7,161.0 676.8,162.0 678.9,163.0C681.1,164.0 683.1,165.1 685.2,166.1C687.3,167.2 689.4,168.3 691.4,169.4C693.5,170.5 695.5,171.6 697.6,172.8C699.6,174.0 701.6,175.2 703.6,176.4C705.7,177.6 707.7,178.8 709.6,180.0C711.6,181.3 713.6,182.5 715.6,183.8C717.5,185.1 719.5,186.4 721.4,187.7C723.3,189.0 725.2,190.3 727.1,191.7C729.1,193.0 731.0,194.4 732.8,195.7C734.7,197.1 736.6,198.5 738.4,199.9C740.2,201.3 742.0,202.7 743.8,204.2C745.6,205.7 747.3,207.2 749.0,208.7C750.7,210.3 752.3,211.9 753.9,213.5C755.5,215.2 757.1,216.9 758.6,218.7C760.1,220.5 761.5,222.3 762.9,224.1C764.3,226.0 765.7,227.9 767.0,229.8C768.3,231.8 769.6,233.7 770.9,235.7C772.2,237.7 773.4,239.7 774.6,241.7C775.8,243.8 777.0,245.8 778.2,247.8C779.3,249.9 780.5,251.9 781.6,253.9C782.8,255.9 783.9,258.0 785.1,260.0C786.2,262.0 787.4,264.0 788.6,265.9C789.8,267.9 791.1,269.8 792.3,271.7C793.5,273.7 794.8,275.6 795.9,277.6C797.0,279.6 798.1,281.7 799.0,283.8C799.9,285.9 800.7,288.1 801.5,290.2C802.3,292.4 803.1,294.6 803.9,296.8C804.8,298.9 805.7,301.1 806.6,303.2C807.5,305.3 808.5,307.4 809.4,309.5C810.4,311.7 811.3,313.8 812.3,315.9C813.2,318.0 814.1,320.1 815.0,322.3C815.9,324.5 816.7,326.6 817.5,328.8C818.3,331.0 819.1,333.3 819.9,335.5C820.6,337.7 821.4,340.0 822.2,342.2C822.9,344.4 823.7,346.6 824.5,348.8C825.4,351.0 826.2,353.2 827.1,355.3C828.1,357.4 829.0,359.5 830.1,361.6C831.2,363.6 832.3,365.6 833.6,367.6C834.9,369.5 836.3,371.4 837.7,373.2C839.2,375.0 840.8,376.8 842.3,378.5C843.9,380.3 845.5,382.0 847.1,383.7C848.7,385.5 850.3,387.2 851.8,389.0C853.2,390.8 854.7,392.6 856.0,394.5C857.3,396.4 858.5,398.4 859.6,400.4C860.7,402.4 861.7,404.5 862.7,406.6C863.8,408.6 864.7,410.7 865.7,412.8C866.7,414.9 867.7,417.0 868.7,419.1C869.6,421.2 870.6,423.3 871.5,425.4C872.5,427.6 873.4,429.7 874.3,431.9C875.2,434.0 876.1,436.2 877.0,438.3C877.9,440.5 878.7,442.7 879.6,444.8C880.5,447.0 881.3,449.2 882.1,451.4C882.9,453.6 883.8,455.8 884.6,458.0C885.3,460.2 886.1,462.4 886.9,464.6C887.7,466.9 888.4,469.1 889.2,471.3C889.9,473.5 890.6,475.8 891.3,478.0C892.0,480.2 892.7,482.5 893.4,484.7C894.1,486.9 894.7,489.2 895.4,491.4C896.0,493.7 896.7,495.9 897.3,498.2C897.9,500.4 898.5,502.7 899.1,504.9C899.7,507.2 900.3,509.4 900.9,511.7C901.4,513.9 902.0,516.2 902.6,518.5C903.1,520.7 903.6,523.0 904.2,525.3C904.7,527.5 905.2,529.8 905.8,532.1C906.3,534.3 906.8,536.6 907.3,538.9C907.8,541.1 908.3,543.4 908.8,545.7C909.3,547.9 909.7,550.2 910.2,552.5C910.7,554.8 911.2,557.0 911.7,559.3C912.1,561.6 912.6,563.9 913.1,566.2C913.5,568.4 914.0,570.7 914.5,573.0C914.9,575.3 915.4,577.5 915.9,579.8C916.3,582.1 916.8,584.4 917.2,586.7C917.7,588.9 918.2,591.2 918.7,593.5C919.1,595.8 919.6,598.1 920.1,600.3C920.5,602.6 921.0,604.9 921.5,607.2C922.0,609.5 922.5,611.7 923.0,614.0C923.5,616.3 924.0,618.6 924.5,620.9C925.0,623.1 925.5,625.4 926.0,627.7C926.6,630.0 927.1,632.3 927.6,634.5C928.2,636.8 928.7,639.1 929.3,641.4C929.8,643.6 930.4,645.9 931.0,648.2C931.6,650.4 932.2,652.7 932.8,655.0C933.4,657.3 934.0,659.5 934.6,661.8C935.3,664.1 935.9,666.3 936.6,668.6C937.2,670.8 937.9,673.1 938.6,675.3C939.3,677.6 940.0,679.8 940.8,682.1C941.5,684.3 942.3,686.5 943.1,688.7C943.9,691.0 944.7,693.2 945.5,695.4C946.3,697.5 947.2,699.7 948.1,701.9C949.0,704.0 949.9,706.2 950.8,708.3C951.8,710.5 952.8,712.6 953.8,714.7C954.8,716.8 955.8,718.8 956.9,720.9C958.0,722.9 959.1,725.0 960.3,727.0C961.4,729.0 962.6,731.0 963.8,732.9C965.1,734.9 966.3,736.8 967.6,738.7C969.0,740.6 970.3,742.5 971.7,744.3C973.1,746.2 974.6,748.0 976.0,749.8C977.5,751.6 979.0,753.3 980.6,755.0C982.1,756.8 983.7,758.5 985.3,760.1C987.0,761.8 988.6,763.4 990.3,765.0C992.0,766.6 993.7,768.2 995.5,769.7C997.2,771.2 999.0,772.7 1000.8,774.2C1002.7,775.7 1004.5,777.1 1006.4,778.5C1008.2,779.9 1010.1,781.3 1012.0,782.6C1013.9,783.9 1015.9,785.2 1017.8,786.5C1019.8,787.7 1021.8,789.0 1023.8,790.1C1025.8,791.3 1027.8,792.5 1029.8,793.6C1031.8,794.7 1033.9,795.8 1036.0,796.9C1038.0,797.9 1040.1,798.9 1042.2,799.9C1044.3,800.9 1046.4,801.9 1048.6,802.8C1050.7,803.7 1052.9,804.6 1055.0,805.5C1057.2,806.4 1059.3,807.3 1061.5,808.1C1063.7,808.9 1065.9,809.7 1068.1,810.5C1070.3,811.3 1072.5,812.0 1074.8,812.8C1077.0,813.5 1079.2,814.2 1081.5,814.9C1083.7,815.6 1086.0,816.2 1088.2,816.9C1090.5,817.5 1092.8,818.2 1095.0,818.8C1097.3,819.4 1099.6,820.0 1101.9,820.6C1104.1,821.2 1106.4,821.7 1108.7,822.3C1111.0,822.8 1113.3,823.4 1115.6,823.9C1117.9,824.4 1120.2,824.9 1122.5,825.4C1124.7,825.9 1127.0,826.4 1129.3,826.9C1131.6,827.4 1133.9,827.9 1136.2,828.3C1138.5,828.8 1140.8,829.3 1143.1,829.7C1145.4,830.2 1147.6,830.6 1149.9,831.0C1152.2,831.5 1154.5,831.9 1156.8,832.3C1159.1,832.7 1161.4,833.1 1163.6,833.5C1165.9,833.9 1168.2,834.3 1170.5,834.6C1172.8,835.0 1175.1,835.4 1177.4,835.7C1179.7,836.1 1182.0,836.4 1184.3,836.7C1186.6,837.0 1188.9,837.4 1191.2,837.7C1193.5,837.9 1195.8,838.2 1198.1,838.5C1200.4,838.8 1202.7,839.0 1205.0,839.3C1207.4,839.5 1209.7,839.8 1212.0,840.0C1214.3,840.2 1216.7,840.4 1219.0,840.6"/>
<path stroke="#ff00ff" d="M222.9,89.3C223.8,89.0 224.6,88.6 225.5,88.3C226.4,87.9 227.4,87.6 228.1,87.4C228.7,87.2 229.1,87.1 229.5,87.0C230.0,86.9 230.3,86.8 230.8,86.7C231.5,86.6 232.6,86.4 233.5,86.2C234.4,86.1 235.9,85.9 236.2,85.9C236.3,85.8 236.3,85.8 236.4,85.8C236.8,85.8 238.1,85.6 239.0,85.6C239.9,85.5 241.0,85.4 241.8,85.3C242.4,85.3 242.9,85.3 243.4,85.2C243.8,85.2 244.1,85.2 244.6,85.1C245.3,85.1 246.4,85.0 247.3,85.0C248.4,84.9 249.2,84.9 250.5,84.8C252.3,84.7 255.2,84.6 257.5,84.5C259.8,84.4 262.2,84.3 264.5,84.2C266.9,84.1 269.2,84.1 271.6,84.0C273.9,84.0 276.3,83.9 278.6,83.9C281.0,83.8 283.3,83.8 285.6,83.7C288.0,83.7 290.3,83.7 292.7,83.6C295.0,83.6 297.4,83.6 299.7,83.5C302.0,83.5 304.4,83.4 306.7,83.4C309.1,83.4 311.4,83.3 313.7,83.3C316.1,83.2 318.4,83.1 320.8,83.1C323.1,83.0 325.4,83.0 327.8,82.9C330.1,82.9 332.5,82.8 334.8,82.7C337.1,82.7 339.5,82.6 341.8,82.5C344.1,82.5 346.5,82.4 348.8,82.3C351.2,82.3 353.5,82.2 355.8,82.1C358.2,82.0 360.5,82.0 362.8,81.9C365.2,81.8 367.5,81.8 369.9,81.7C372.2,81.6 374.5,81.6 376.9,81.5C379.2,81.4 381.6,81.3 383.9,81.3C386.2,81.2 388.6,81.1 390.9,81.1C393.3,81.0 395.6,81.0 398.0,80.9C400.3,80.8 402.7,80.8 405.0,80.7C407.3,80.7 409.7,80.6 412.0,80.6C414.4,80.5 416.7,80.5 419.1,80.4C421.4,80.4 423.8,80.4 426.1,80.4C428.5,80.3 430.8,80.3 433.2,80.3C435.5,80.3 437.9,80.3 440.2,80.4C442.6,80.4 444.9,80.4 447.2,80.5C449.6,80.5 451.9,80.6 454.3,80.6C456.6,80.7 459.0,80.8 461.3,80.9C463.6,81.0 466.0,81.2 468.3,81.3C470.6,81.5 473.0,81.6 475.3,81.8C477.6,82.0 480.0,82.2 482.3,82.5C484.6,82.7 486.9,83.0 489.2,83.2C491.6,83.5 493.9,83.8 496.2,84.2C498.5,84.5 500.8,84.9 503.1,85.2C505.4,85.6 507.7,86.0 510.0,86.5C512.3,86.9 514.6,87.4 516.9,87.9C519.2,88.3 521.5,88.9 523.8,89.4C526.1,89.9 528.4,90.5 530.6,91.0C532.9,91.6 535.2,92.2 537.4,92.8C539.7,93.4 542.0,94.0 544.2,94.6C546.5,95.3 548.7,95.9 551.0,96.6C553.2,97.3 555.5,97.9 557.7,98.6C560.0,99.3 562.2,100.0 564.4,100.8C566.6,101.5 568.9,102.2 571.1,102.9C573.3,103.7 575.5,104.4 577.7,105.2C579.9,105.9 582.1,106.7 584.3,107.4C586.5,108.2 588.7,109.0 590.9,109.7C593.1,110.5 595.3,111.3 597.5,112.0C599.8,112.8 602.0,113.5 604.2,114.3C606.4,115.0 608.6,115.7 610.9,116.5C613.1,117.2 615.3,117.9 617.6,118.6C619.8,119.3 622.1,119.9 624.3,120.6C626.6,121.3 628.9,121.9 631.2,122.5C633.5,123.2 635.8,123.8 638.0,124.5C640.3,125.1 642.6,125.7 644.9,126.4C647.1,127.1 649.4,127.8 651.6,128.6C653.8,129.3 656.0,130.1 658.2,130.9C660.4,131.8 662.5,132.7 664.6,133.6C666.7,134.6 668.8,135.6 670.8,136.7C672.8,137.8 674.8,139.0 676.8,140.2C678.7,141.4 680.7,142.7 682.6,143.9C684.5,145.2 686.4,146.6 688.3,147.9C690.2,149.2 692.1,150.6 694.0,152.0C695.9,153.4 697.8,154.8 699.7,156.2C701.6,157.6 703.5,159.0 705.4,160.3C707.3,161.7 709.3,163.1 711.2,164.4C713.2,165.8 715.2,167.1 717.2,168.5C719.1,169.8 721.1,171.2 723.1,172.5C725.1,173.9 727.0,175.2 728.9,176.6C730.9,178.0 732.8,179.4 734.6,180.9C736.5,182.3 738.3,183.8 740.1,185.4C741.9,186.9 743.6,188.5 745.2,190.1C746.9,191.7 748.5,193.3 750.1,195.0C751.7,196.7 753.2,198.5 754.7,200.2C756.1,202.0 757.6,203.8 759.0,205.7C760.4,207.5 761.7,209.4 763.0,211.3C764.3,213.2 765.6,215.1 766.8,217.1C768.1,219.0 769.3,221.0 770.5,223.0C771.6,225.0 772.8,227.1 773.9,229.1C775.0,231.2 776.1,233.2 777.1,235.3C778.2,237.4 779.2,239.5 780.2,241.6C781.2,243.7 782.2,245.9 783.2,248.0C784.2,250.1 785.1,252.3 786.0,254.4C787.0,256.6 787.9,258.7 788.8,260.9C789.7,263.1 790.6,265.2 791.5,267.4C792.3,269.6 793.2,271.7 794.0,273.9C794.9,276.1 795.7,278.3 796.6,280.5C797.4,282.7 798.2,284.9 799.0,287.1C799.8,289.3 800.6,291.5 801.4,293.7C802.2,295.9 802.9,298.1 803.7,300.3C804.5,302.5 805.2,304.8 806.0,307.0C806.7,309.2 807.4,311.4 808.2,313.7C808.9,315.9 809.6,318.2 810.4,320.4C811.1,322.7 811.8,324.9 812.5,327.2C813.2,329.4 813.9,331.7 814.6,334.0C815.3,336.2 816.1,338.5 816.8,340.7C817.6,342.9 818.3,345.2 819.2,347.3C820.0,349.5 820.8,351.7 821.8,353.9C822.7,356.0 823.6,358.1 824.7,360.2C825.7,362.2 826.8,364.2 828.0,366.2C829.2,368.2 830.4,370.1 831.8,371.9C833.1,373.8 834.6,375.6 836.1,377.3C837.5,379.1 839.1,380.8 840.7,382.5C842.3,384.2 843.9,385.9 845.6,387.6C847.3,389.2 849.0,390.8 850.7,392.5C852.4,394.1 854.1,395.7 855.8,397.4C857.5,399.0 859.2,400.6 860.9,402.3C862.5,404.0 864.2,405.6 865.8,407.4C867.4,409.1 868.9,410.8 870.4,412.6C871.9,414.4 873.3,416.2 874.7,418.1C876.1,419.9 877.3,421.8 878.6,423.8C879.8,425.7 881.0,427.7 882.2,429.7C883.3,431.8 884.4,433.8 885.4,435.9C886.5,437.9 887.5,440.0 888.5,442.2C889.5,444.3 890.5,446.4 891.4,448.6C892.4,450.7 893.3,452.9 894.2,455.0C895.2,457.2 896.1,459.4 897.0,461.5C897.9,463.7 898.9,465.9 899.8,468.1C900.7,470.2 901.6,472.4 902.5,474.6C903.4,476.8 904.3,478.9 905.2,481.1C906.1,483.3 906.9,485.5 907.8,487.7C908.6,489.9 909.5,492.1 910.3,494.3C911.1,496.5 911.9,498.7 912.6,500.9C913.4,503.1 914.2,505.3 914.9,507.5C915.6,509.7 916.4,511.9 917.1,514.2C917.8,516.4 918.5,518.6 919.1,520.8C919.8,523.1 920.5,525.3 921.1,527.5C921.8,529.8 922.4,532.0 923.1,534.3C923.7,536.5 924.3,538.7 924.9,541.0C925.5,543.2 926.1,545.5 926.7,547.7C927.3,550.0 927.9,552.3 928.4,554.5C929.0,556.8 929.6,559.0 930.1,561.3C930.7,563.5 931.3,565.8 931.8,568.1C932.4,570.3 932.9,572.6 933.5,574.9C934.0,577.1 934.5,579.4 935.1,581.7C935.6,583.9 936.2,586.2 936.7,588.5C937.2,590.8 937.8,593.0 938.3,595.3C938.8,597.6 939.4,599.9 939.9,602.1C940.5,604.4 941.0,606.7 941.6,609.0C942.1,611.2 942.7,613.5 943.2,615.8C943.8,618.1 944.3,620.3 944.9,622.6C945.5,624.9 946.0,627.2 946.6,629.4C947.2,631.7 947.8,634.0 948.4,636.2C949.0,638.5 949.6,640.8 950.2,643.1C950.8,645.3 951.4,647.6 952.1,649.9C952.7,652.1 953.4,654.4 954.0,656.7C954.7,658.9 955.4,661.2 956.1,663.5C956.7,665.7 957.4,668.0 958.2,670.2C958.9,672.5 959.6,674.7 960.4,677.0C961.1,679.2 961.9,681.4 962.7,683.7C963.5,685.9 964.3,688.1 965.2,690.3C966.0,692.5 966.9,694.7 967.8,696.9C968.7,699.1 969.6,701.2 970.5,703.4C971.5,705.5 972.5,707.6 973.5,709.8C974.5,711.9 975.5,714.0 976.6,716.0C977.6,718.1 978.7,720.2 979.9,722.2C981.0,724.2 982.2,726.2 983.4,728.2C984.6,730.2 985.9,732.2 987.2,734.1C988.4,736.0 989.8,737.9 991.1,739.8C992.5,741.7 993.9,743.5 995.4,745.3C996.8,747.1 998.3,748.9 999.9,750.7C1001.4,752.4 1003.0,754.1 1004.6,755.8C1006.2,757.5 1007.8,759.1 1009.5,760.8C1011.2,762.4 1012.9,763.9 1014.6,765.5C1016.4,767.0 1018.2,768.5 1020.0,770.0C1021.8,771.5 1023.6,772.9 1025.5,774.3C1027.4,775.7 1029.3,777.1 1031.2,778.4C1033.1,779.7 1035.1,781.0 1037.0,782.2C1039.0,783.5 1041.0,784.7 1043.0,785.8C1045.0,787.0 1047.1,788.1 1049.1,789.2C1051.2,790.3 1053.3,791.3 1055.4,792.3C1057.5,793.3 1059.6,794.3 1061.8,795.3C1063.9,796.2 1066.1,797.1 1068.2,798.0C1070.4,798.9 1072.6,799.7 1074.8,800.6C1077.0,801.4 1079.2,802.2 1081.4,802.9C1083.7,803.7 1085.9,804.5 1088.2,805.2C1090.4,805.9 1092.7,806.6 1094.9,807.3C1097.2,807.9 1099.5,808.6 1101.7,809.2C1104.0,809.9 1106.3,810.5 1108.6,811.1C1110.9,811.7 1113.2,812.3 1115.5,812.8C1117.8,813.4 1120.1,813.9 1122.4,814.5C1124.7,815.0 1127.0,815.5 1129.3,816.1C1131.6,816.6 1133.9,817.1 1136.2,817.6C1138.5,818.1 1140.8,818.6 1143.1,819.0C1145.4,819.5 1147.6,820.0 1149.9,820.4C1152.2,820.9 1154.5,821.4 1156.8,821.8C1159.1,822.2 1161.4,822.7 1163.7,823.1C1166.0,823.5 1168.3,823.9 1170.5,824.4C1172.8,824.8 1175.1,825.2 1177.4,825.6C1179.7,826.0 1182.0,826.3 1184.3,826.7C1186.6,827.1 1188.9,827.5 1191.2,827.8C1193.5,828.2 1195.8,828.6 1198.1,828.9C1200.4,829.3 1202.7,829.6 1205.1,829.9C1207.4,830.3 1209.7,830.6 1212.0,830.9C1214.3,831.3 1216.7,831.6 1219.0,831.9"/>
</g>
<g stroke="#000" stroke-width="9.0" fill="none" stroke-linecap="round">
<line x1="161.5" y1="907.8" x2="161.5" y2="921.5"/>
<line x1="228.0" y1="907.8" x2="228.0" y2="913.6"/>
<line x1="294.6" y1="907.8" x2="294.6" y2="921.5"/>
<line x1="361.1" y1="907.8" x2="361.1" y2="913.6"/>
<line x1="427.6" y1="907.8" x2="427.6" y2="921.5"/>
<line x1="494.1" y1="907.8" x2="494.1" y2="913.6"/>
<line x1="560.7" y1="907.8" x2="560.7" y2="921.5"/>
<line x1="627.2" y1="907.8" x2="627.2" y2="913.6"/>
<line x1="693.7" y1="907.8" x2="693.7" y2="921.5"/>
<line x1="760.2" y1="907.8" x2="760.2" y2="913.6"/>
<line x1="826.8" y1="907.8" x2="826.8" y2="921.5"/>
<line x1="893.3" y1="907.8" x2="893.3" y2="913.6"/>
<line x1="959.8" y1="907.8" x2="959.8" y2="921.5"/>
<line x1="1026.4" y1="907.8" x2="1026.4" y2="913.6"/>
<line x1="1092.9" y1="907.8" x2="1092.9" y2="921.5"/>
<line x1="1159.4" y1="907.8" x2="1159.4" y2="913.6"/>
<line x1="1225.9" y1="907.8" x2="1225.9" y2="921.5"/>
<line x1="1292.5" y1="907.8" x2="1292.5" y2="913.6"/>
<line x1="1359.0" y1="907.8" x2="1359.0" y2="921.5"/>
<line x1="158.5" y1="904.8" x2="152.4" y2="904.8"/>
<line x1="158.5" y1="816.0" x2="144.0" y2="816.0"/>
<line x1="158.5" y1="727.1" x2="152.4" y2="727.1"/>
<line x1="158.5" y1="638.3" x2="144.0" y2="638.3"/>
<line x1="158.5" y1="549.5" x2="152.4" y2="549.5"/>
<line x1="158.5" y1="460.6" x2="144.0" y2="460.6"/>
<line x1="158.5" y1="371.8" x2="152.4" y2="371.8"/>
<line x1="158.5" y1="283.0" x2="144.0" y2="283.0"/>
<line x1="158.5" y1="194.2" x2="152.4" y2="194.2"/>
<line x1="158.5" y1="105.3" x2="144.0" y2="105.3"/>
<line x1="158.5" y1="16.5" x2="152.4" y2="16.5"/>
</g>
<rect x="161.5" y="16.5" width="1197.5" height="888.3" fill="none" stroke="#000" stroke-width="9.0"/>
<g font-family="'Liberation Serif', serif" font-weight="bold" fill="#000">
<text x="160.9" y="969.3" font-size="46" text-anchor="middle">0</text>
<text x="294.0" y="969.3" font-size="46" text-anchor="middle">100</text>
<text x="427.0" y="969.3" font-size="46" text-anchor="middle">200</text>
<text x="560.1" y="969.3" font-size="46" text-anchor="middle">300</text>
<text x="693.1" y="969.3" font-size="46" text-anchor="middle">400</text>
<text x="826.2" y="969.3" font-size="46" text-anchor="middle">500</text>
<text x="959.2" y="969.3" font-size="46" text-anchor="middle">600</text>
<text x="1092.3" y="969.3" font-size="46" text-anchor="middle">700</text>
<text x="1225.3" y="969.3" font-size="46" text-anchor="middle">800</text>
<text x="1358.4" y="969.3" font-size="46" text-anchor="middle">900</text>
<text x="131.7" y="827.8" font-size="46" text-anchor="end">60</text>
<text x="131.7" y="650.1" font-size="46" text-anchor="end">70</text>
<text x="131.7" y="472.4" font-size="46" text-anchor="end">80</text>
<text x="131.7" y="294.8" font-size="46" text-anchor="end">90</text>
<text x="131.7" y="117.1" font-size="46" text-anchor="end">100</text>
<text x="570.6" y="1031.6" font-size="46.4" letter-spacing="-0.48">Temperature</text>
<text transform="translate(52,557.5) rotate(-90)" font-size="46.4">Weight(%)</text>
</g>
<g font-family="'Liberation Serif', 'Noto Serif CJK SC', serif" fill="#000">
<text x="829.5" y="1024.8" font-size="46">(</text>
<text x="847.3" y="1030.0" font-size="48">℃</text>
<text x="898.0" y="1024.8" font-size="46">)</text>
</g>
<g font-family="'Liberation Serif', serif" font-weight="bold" font-size="41.2" stroke-linecap="round">
<line x1="1045.3" y1="205.4" x2="1120.2" y2="205.4" stroke="#ff0000" stroke-width="5.6"/>
<text x="1127.0" y="216.5" fill="#ff0000">PDPI-1</text>
<line x1="1045.3" y1="249.8" x2="1120.2" y2="249.8" stroke="#00ff00" stroke-width="5.6"/>
<text x="1127.0" y="259.6" fill="#00ff00">PDPI-2</text>
<line x1="1045.3" y1="297.4" x2="1120.2" y2="297.4" stroke="#0000ff" stroke-width="4.9"/>
<text x="1127.0" y="308.8" fill="#0000ff">PDPI-3</text>
<line x1="1045.3" y1="350.3" x2="1120.2" y2="350.3" stroke="#00ffff" stroke-width="4.9"/>
<text x="1124.6" y="359.6" fill="#00ffff">PDPI-4</text>
<line x1="1042.8" y1="400.3" x2="1117.6" y2="400.3" stroke="#ff00ff" stroke-width="5.6"/>
<text x="1122.0" y="409.4" fill="#ff00ff">PDPI-5</text>
</g>
</svg>
</body></html>
